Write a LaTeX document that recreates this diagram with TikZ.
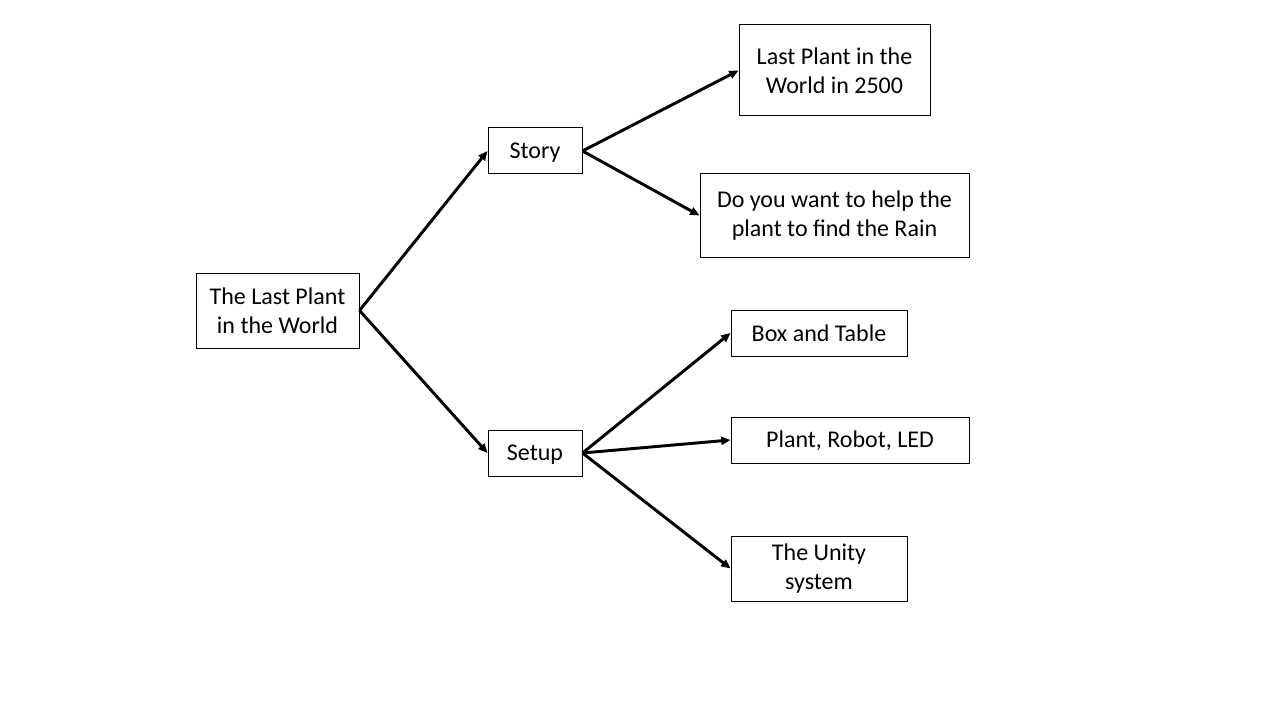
\documentclass[tikz,border=0pt]{standalone}
\usepackage{fontspec}
\setmainfont{Carlito}
\usetikzlibrary{arrows.meta}
\begin{document}
\begin{tikzpicture}[x=0.75pt,y=-0.75pt,
    box/.style={draw=black, line width=0.75pt, align=center, font=\fontsize{18}{22}\selectfont, inner sep=0pt},
    link/.style={black, line width=2.2pt, -{Triangle[length=7pt,width=6pt]}}]
     \useasboundingbox (0,0) rectangle (1280,720);
     \node[box, minimum width=163*0.75pt, minimum height=75*0.75pt] (root) at (277.5,310.5) {The Last Plant\\in the World};
     \node[box, minimum width=94*0.75pt, minimum height=46*0.75pt, text height=14pt] (story) at (535,151) {Story};
     \node[box, minimum width=94*0.75pt, minimum height=46*0.75pt, text height=14pt] (setup) at (535,453) {Setup};
     \node[box, minimum width=191*0.75pt, minimum height=91*0.75pt] (year) at (834.5,70.5) {Last Plant in the\\World in 2500};
     \node[box, minimum width=269*0.75pt, minimum height=83*0.75pt] (rain) at (834.5,215.5) {Do you want to help the\\plant to find the Rain};
     \node[box, minimum width=176*0.75pt, minimum height=46*0.75pt] (table) at (819,333) {Box and Table};
     \node[box, minimum width=238*0.75pt, minimum height=46*0.75pt, text height=14pt] (robot) at (850,440) {Plant, Robot, LED};
     \node[box, minimum width=176*0.75pt, minimum height=65*0.75pt] (unity) at (819,568.5) {The Unity\\system};
     \draw[link] (root.east) -- (story.west);
     \draw[link] (root.east) -- (setup.west);
     \draw[link] (story.east) -- (year.west);
     \draw[link] (story.east) -- (rain.west);
     \draw[link] (setup.east) -- (table.west);
     \draw[link] (setup.east) -- (robot.west);
     \draw[link] (setup.east) -- (unity.west);
\end{tikzpicture}
\end{document}
